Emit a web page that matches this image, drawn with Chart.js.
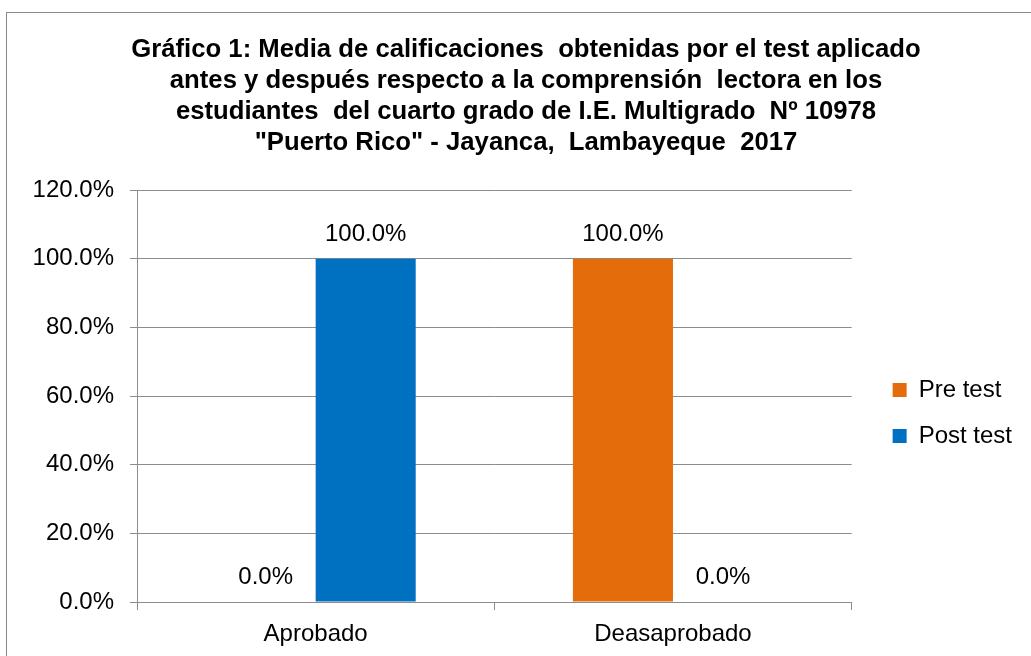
<!DOCTYPE html>
<html>
<head>
<meta charset="utf-8">
<script src="https://cdn.jsdelivr.net/npm/chart.js@4.4.1/dist/chart.umd.min.js"></script>
<style>
  html, body { margin: 0; padding: 0; background: #fff; overflow: hidden; width: 1031px; height: 656px; }
  #frame { position: absolute; left: 6px; top: 12px; width: 1038px; height: 650px; border: 1px solid #8a8a8a; background: #fff; }
  #c { position: absolute; left: 0; top: 0; }
</style>
</head>
<body>
<div id="frame"><canvas id="c" width="1038" height="650"></canvas></div>
<script>
const titleLines = [
  'Gráfico 1: Media de calificaciones  obtenidas por el test aplicado',
  'antes y después respecto a la comprensión  lectora en los',
  'estudiantes  del cuarto grado de I.E. Multigrado  Nº 10978',
  '"Puerto Rico" - Jayanca,  Lambayeque  2017'
];
const categories = ['Aprobado', 'Deasaprobado'];
const seriesNames = ['Pre test', 'Post test'];
const preTest = [0, 100];
const postTest = [100, 0];
const yTicks = [0, 20, 40, 60, 80, 100, 120];

const FONT = "'Liberation Sans', Arial, sans-serif";
const GRID = '#8c8c8c';

const pct = v => Number(v).toFixed(1) + '%';

const valueLabels = {
  id: 'valueLabels',
  afterDatasetsDraw(chart) {
    const ctx = chart.ctx;
    ctx.save();
    ctx.font = '24px ' + FONT;
    ctx.fillStyle = '#000';
    ctx.textAlign = 'center';
    ctx.textBaseline = 'alphabetic';
    chart.data.datasets.forEach((ds, i) => {
      const meta = chart.getDatasetMeta(i);
      meta.data.forEach((el, j) => {
        ctx.fillText(pct(ds.data[j]), el.x, el.y - 18);
      });
    });
    ctx.restore();
  }
};

// fine placement of the legend and title boxes
const boxOffsets = {
  id: 'boxOffsets',
  afterLayout(chart) {
    const lg = chart.legend;
    if (lg) {
      lg.left += 19; lg.right += 19;
      lg.top += 17; lg.bottom += 17;
    }
    const tb = chart.titleBlock;
    if (tb) { tb.left += 16; tb.right += 16; }
  }
};

new Chart(document.getElementById('c'), {
  type: 'bar',
  data: {
    labels: categories,
    datasets: [
      { label: seriesNames[0], data: preTest, backgroundColor: '#E46C0A', borderWidth: 0 },
      { label: seriesNames[1], data: postTest, backgroundColor: '#0070C0', borderWidth: 0 }
    ]
  },
  options: {
    responsive: false,
    devicePixelRatio: 1,
    animation: false,
    categoryPercentage: 0.56,
    barPercentage: 1.0,
    layout: { padding: { left: 10, right: 42, top: 0, bottom: 0 } },
    plugins: {
      title: {
        display: true,
        text: titleLines,
        color: '#000',
        font: { family: FONT, size: 25.7, weight: 'bold', lineHeight: 31 / 25.7 },
        padding: { top: 21, bottom: 32 }
      },
      legend: {
        display: true,
        position: 'right',
        fullSize: false,
        labels: {
          color: '#000',
          font: { family: FONT, size: 24 },
          boxWidth: 14,
          boxHeight: 14,
          padding: 22
        }
      },
      tooltip: { enabled: false }
    },
    scales: {
      x: {
        grid: { display: true, drawOnChartArea: false, drawTicks: true, tickLength: 8, offset: true, color: GRID },
        border: { display: true, color: GRID },
        ticks: { color: '#000', font: { family: FONT, size: 24 }, padding: 10 },
        afterFit(scale) { scale.height = 61; }
      },
      y: {
        min: 0,
        max: 120,
        afterBuildTicks(scale) { scale.ticks = yTicks.map(v => ({ value: v })); },
        grid: { color: GRID, tickLength: 7 },
        border: { display: true, color: GRID },
        ticks: { color: '#000', font: { family: FONT, size: 24 }, padding: 16, callback: v => pct(v) },
        afterFit(scale) { scale.width = 120; }
      }
    }
  },
  plugins: [valueLabels, boxOffsets]
});
</script>
</body>
</html>
